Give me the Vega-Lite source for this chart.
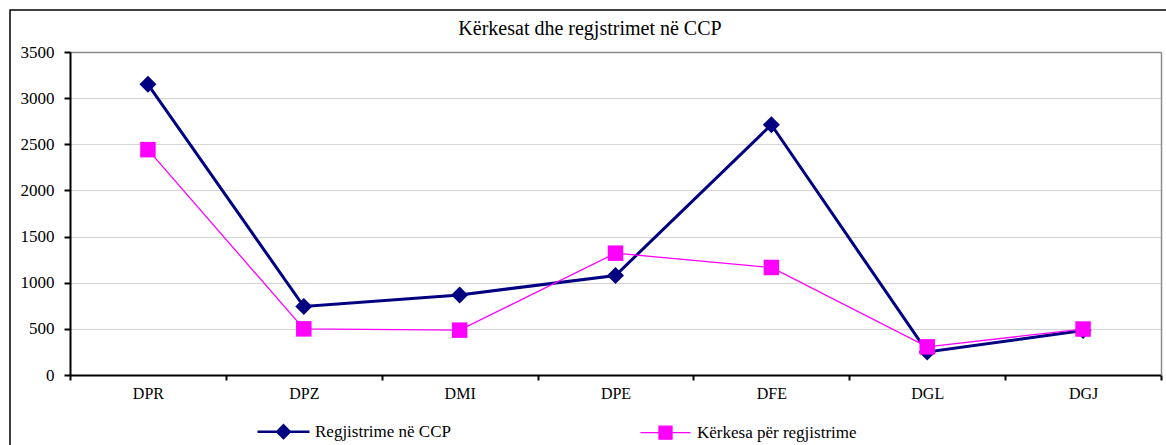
{
  "$schema": "https://vega.github.io/schema/vega-lite/v6.json",
  "width": 1160,
  "height": 440,
  "autosize": "none",
  "padding": {"left": 10, "top": 10, "right": 0, "bottom": 0},
  "background": "white",
  "config": {
    "view": {"stroke": "black", "strokeWidth": 1.5},
    "font": "Liberation Serif"
  },
  "title": {
    "text": "Kërkesat dhe regjstrimet në CCP",
    "font": "Liberation Serif",
    "fontSize": 20,
    "fontWeight": "normal",
    "color": "black",
    "anchor": "middle",
    "frame": "group",
    "offset": -29
  },
  "data": {
    "values": [
      {"cat": "DPR", "series": "Regjistrime në CCP", "value": 3150},
      {"cat": "DPZ", "series": "Regjistrime në CCP", "value": 742},
      {"cat": "DMI", "series": "Regjistrime në CCP", "value": 868},
      {"cat": "DPE", "series": "Regjistrime në CCP", "value": 1078},
      {"cat": "DFE", "series": "Regjistrime në CCP", "value": 2712},
      {"cat": "DGL", "series": "Regjistrime në CCP", "value": 250},
      {"cat": "DGJ", "series": "Regjistrime në CCP", "value": 482},
      {"cat": "DPR", "series": "Kërkesa për regjistrime", "value": 2442},
      {"cat": "DPZ", "series": "Kërkesa për regjistrime", "value": 500},
      {"cat": "DMI", "series": "Kërkesa për regjistrime", "value": 486},
      {"cat": "DPE", "series": "Kërkesa për regjistrime", "value": 1320},
      {"cat": "DFE", "series": "Kërkesa për regjistrime", "value": 1165},
      {"cat": "DGL", "series": "Kërkesa për regjistrime", "value": 305},
      {"cat": "DGJ", "series": "Kërkesa për regjistrime", "value": 498}
    ]
  },
  "encoding": {
    "color": {
      "field": "series",
      "type": "nominal",
      "sort": null,
      "scale": {"domain": ["Regjistrime në CCP", "Kërkesa për regjistrime"], "range": ["#000080", "#ff00ff"]},
      "legend": {
        "title": null,
        "orient": "none",
        "direction": "horizontal",
        "legendX": 265,
        "legendY": 413,
        "padding": 0,
        "symbolSize": 100,
        "labelOffset": 23,
        "columnPadding": 186,
        "labelFont": "Liberation Serif",
        "labelFontSize": 17,
        "labelColor": "black",
        "labelLimit": 400,
        "encode": {
          "symbols": {
            "update": {
              "shape": {"signal": "datum.value === 'Regjistrime në CCP' ? 'M-5.2,0L5.2,0M0,-1.25L1.25,0L0,1.25L-1.25,0Z' : 'M-5,0L5,0M-1.3,-1.3L1.3,-1.3L1.3,1.3L-1.3,1.3Z'"},
              "strokeWidth": {"signal": "datum.value === 'Regjistrime në CCP' ? 2.5 : 1.3"},
              "stroke": {"signal": "datum.value === 'Regjistrime në CCP' ? '#000080' : '#ff00ff'"},
              "fill": {"signal": "datum.value === 'Regjistrime në CCP' ? '#000080' : '#ff00ff'"},
              "opacity": {"value": 1},
              "size": {"value": 100}
            }
          }
        }
      }
    }
  },
  "layer": [
    {
      "mark": {"type": "line"},
      "encoding": {
        "x": {
          "field": "cat",
          "type": "nominal",
          "sort": null,
          "scale": {"type": "band", "range": [60, 1151], "paddingInner": 0, "paddingOuter": 0},
          "axis": {
            "title": null,
            "orient": "bottom",
            "offset": -75,
            "tickBand": "extent",
            "domainColor": "black",
            "domainWidth": 2,
            "tickColor": "black",
            "tickWidth": 2,
            "tickSize": 5,
            "labelAngle": 0,
            "labelPadding": 5,
            "labelFont": "Liberation Serif",
            "labelFontSize": 16,
            "labelColor": "black",
            "grid": false
          }
        },
        "y": {
          "field": "value",
          "type": "quantitative",
          "scale": {"domain": [0, 3500], "range": [365, 42], "nice": false, "zero": true},
          "axis": {
            "title": null,
            "orient": "left",
            "offset": -60,
            "values": [0, 500, 1000, 1500, 2000, 2500, 3000, 3500],
            "format": "d",
            "domainColor": "black",
            "domainWidth": 2,
            "tickColor": "black",
            "tickWidth": 2,
            "tickSize": 6,
            "labelPadding": 10,
            "labelFont": "Liberation Serif",
            "labelFontSize": 17,
            "labelColor": "black",
            "grid": true,
            "gridColor": "#d4d4d4",
            "gridWidth": 1
          }
        },
        "strokeWidth": {
          "condition": {"test": "datum.series === 'Regjistrime në CCP'", "value": 3},
          "value": 1.3
        }
      }
    },
    {
      "mark": {"type": "point", "filled": true, "opacity": 1},
      "encoding": {
        "x": {
          "field": "cat",
          "type": "nominal",
          "sort": null,
          "scale": {"type": "band", "range": [60, 1151], "paddingInner": 0, "paddingOuter": 0},
          "axis": {
            "title": null,
            "orient": "top",
            "offset": -42,
            "labels": false,
            "ticks": false,
            "grid": false,
            "domainColor": "#8a8a8a",
            "domainWidth": 1.5
          }
        },
        "y": {
          "field": "value",
          "type": "quantitative",
          "scale": {"domain": [0, 3500], "range": [365, 42], "nice": false, "zero": true},
          "axis": {
            "title": null,
            "orient": "right",
            "offset": -9,
            "labels": false,
            "ticks": false,
            "grid": false,
            "domainColor": "#8a8a8a",
            "domainWidth": 1.5
          }
        },
        "shape": {
          "condition": {"test": "datum.series === 'Regjistrime në CCP'", "value": "diamond"},
          "value": "square"
        },
        "size": {
          "condition": {"test": "datum.series === 'Regjistrime në CCP'", "value": 290},
          "value": 240
        }
      }
    }
  ],
  "resolve": {"axis": {"x": "independent", "y": "independent"}}
}
